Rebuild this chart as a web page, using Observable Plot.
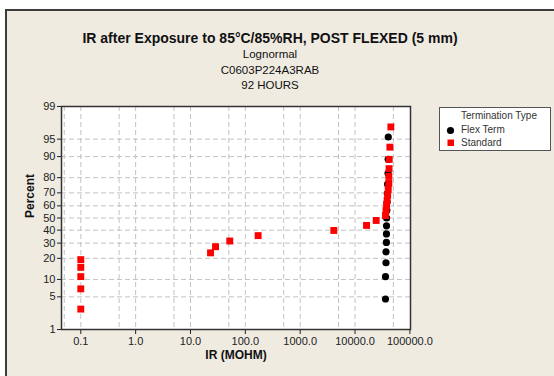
<!DOCTYPE html>
<html>
<head>
<meta charset="utf-8">
<script src="https://cdn.jsdelivr.net/npm/d3@7"></script>
<script src="https://cdn.jsdelivr.net/npm/@observablehq/plot@0.6"></script>
<style>
  body { margin: 0; background: #fff; }
  #page { position: relative; width: 554px; height: 376px; overflow: hidden; background: #fff; font-family: "Liberation Sans", Arial, sans-serif; }
  #frame { position: absolute; left: 5px; top: 9px; width: 620px; height: 420px; background: #EFEBE1; border: 2px solid #3c3c3c; }
  .t { position: absolute; left: 0; width: 540px; text-align: center; line-height: 1; color: #111; white-space: nowrap; }
  #title { top: 31px; font-size: 14px; font-weight: bold; }
  .sub { font-size: 11.5px; }
  #chart { position: absolute; left: 0; top: 96px; }
  #legend { position: absolute; left: 439px; top: 107px; width: 110px; height: 42px; background: #fff; border: 1px solid #555; font-size: 10px; color: #333; }
  #legend div { position: absolute; left: 21px; line-height: 1; white-space: nowrap; }
  #legend .sym { position: absolute; }
</style>
</head>
<body>
<div id="page">
  <div id="frame"></div>
  <div class="t" id="title">IR after Exposure to 85°C/85%RH, POST FLEXED (5 mm)</div>
  <div class="t sub" style="top:49px">Lognormal</div>
  <div class="t sub" style="top:65px">C0603P224A3RAB</div>
  <div class="t sub" style="top:80px">92 HOURS</div>
  <div id="chart"></div>
  <div id="legend">
    <div style="top:3px">Termination Type</div>
    <svg class="sym" style="left:6px;top:18px" width="9" height="9"><circle cx="4.5" cy="4.5" r="3.6" fill="#000"/></svg>
    <div style="top:17px">Flex Term</div>
    <svg class="sym" style="left:7px;top:31px" width="8" height="8"><rect x="0.5" y="0.5" width="6.5" height="6.5" fill="#f00"/></svg>
    <div style="top:30px">Standard</div>
  </div>
</div>
<script>
// ---- data ----
const flexIR  = [35900, 35900, 36700, 36700, 37300, 37400, 37500, 37600, 38000, 38400, 38800, 39300, 40000, 40200, 40400];
const flexPct = [4.55, 11.04, 17.53, 24.03, 30.52, 37.01, 43.51, 50.00, 56.49, 62.99, 69.48, 75.97, 82.47, 88.96, 95.45];
const stdIR   = [0.1, 0.1, 0.1, 0.1, 0.1, 23.2, 28.6, 52, 171, 4100, 16200, 24300, 35900, 36700, 37500, 38500, 39300, 40300, 41300, 41300, 41700, 42000, 43200, 45000];
const stdPct  = [2.87, 6.97, 11.07, 15.16, 19.26, 23.36, 27.46, 31.56, 35.66, 39.75, 43.85, 47.95, 52.05, 56.15, 60.25, 64.34, 68.44, 72.54, 76.64, 80.74, 84.84, 88.93, 93.03, 97.13];
const xTicks  = [0.1, 1, 10, 100, 1000, 10000, 100000];
const xGrid   = [0.05, 0.1, 0.5, 1, 5, 10, 50, 100, 500, 1000, 5000, 10000, 50000];
const yTicks  = [1, 5, 10, 20, 30, 40, 50, 60, 70, 80, 90, 95, 99];

// inverse standard normal CDF (Acklam)
function probit(p) {
  const a=[-3.969683028665376e+01,2.209460984245205e+02,-2.759285104469687e+02,1.383577518672690e+02,-3.066479806614716e+01,2.506628277459239e+00];
  const b=[-5.447609879822406e+01,1.615858368580409e+02,-1.556989798598866e+02,6.680131188771972e+01,-1.328068155288572e+01];
  const c=[-7.784894002430293e-03,-3.223964580411365e-01,-2.400758277161838e+00,-2.549732539343734e+00,4.374664141464968e+00,2.938163982698783e+00];
  const d=[7.784695709041462e-03,3.224671290700398e-01,2.445134137142996e+00,3.754408661907416e+00];
  const pl = 0.02425, ph = 1 - pl;
  let q, r;
  if (p < pl) { q = Math.sqrt(-2*Math.log(p)); return (((((c[0]*q+c[1])*q+c[2])*q+c[3])*q+c[4])*q+c[5])/((((d[0]*q+d[1])*q+d[2])*q+d[3])*q+1); }
  if (p <= ph) { q = p - 0.5; r = q*q; return (((((a[0]*r+a[1])*r+a[2])*r+a[3])*r+a[4])*r+a[5])*q/(((((b[0]*r+b[1])*r+b[2])*r+b[3])*r+b[4])*r+1); }
  q = Math.sqrt(-2*Math.log(1-p)); return -(((((c[0]*q+c[1])*q+c[2])*q+c[3])*q+c[4])*q+c[5])/((((d[0]*q+d[1])*q+d[2])*q+d[3])*q+1);
}
const pz = (pct) => probit(pct / 100);

const flex = flexIR.map((v, i) => ({ir: v, z: pz(flexPct[i])}));
const std  = stdIR.map((v, i) => ({ir: v, z: pz(stdPct[i])}));
const yTickZ = yTicks.map(pz);

const gridStyle = {stroke: "#c2c2c2", strokeOpacity: 1, strokeWidth: 1, strokeDasharray: "5,3"};

const chart = Plot.plot({
  width: 554, height: 280,
  marginLeft: 61, marginRight: 144, marginTop: 10, marginBottom: 47,
  style: {background: "transparent", fontFamily: "Liberation Sans, Arial, sans-serif", fontSize: "11px", color: "#222", overflow: "visible"},
  x: {type: "log", domain: [0.0445, 102600]},
  y: {domain: [pz(1), pz(99)]},
  marks: [
    Plot.frame({fill: "white", stroke: null}),
    Plot.ruleX(xGrid, gridStyle),
    Plot.ruleY(yTickZ, gridStyle),
    Plot.axisX(xTicks, {tickSize: 5, tickPadding: 3, tickFormat: d => d.toFixed(1), label: null}),
    Plot.axisY(yTickZ, {tickSize: 4, tickPadding: 2, tickFormat: d => String(yTicks[yTickZ.indexOf(d)]), label: null}),
    Plot.frame({stroke: "#333", strokeWidth: 1.5}),
    Plot.dot(flex, {x: "ir", y: "z", r: 3.6, fill: "black", symbol: "circle"}),
    Plot.dot(std, {x: "ir", y: "z", r: 3.9, fill: "#ff0000", symbol: "square"}),
    Plot.text(["IR (MOHM)"], {frameAnchor: "bottom", dy: 29, fontWeight: "bold", fontSize: 12, fill: "#111"}),
    Plot.text(["Percent"], {frameAnchor: "left", dx: -31, rotate: -90, fontWeight: "bold", fontSize: 12, fill: "#111"})
  ]
});
document.getElementById("chart").appendChild(chart);
</script>
</body>
</html>
